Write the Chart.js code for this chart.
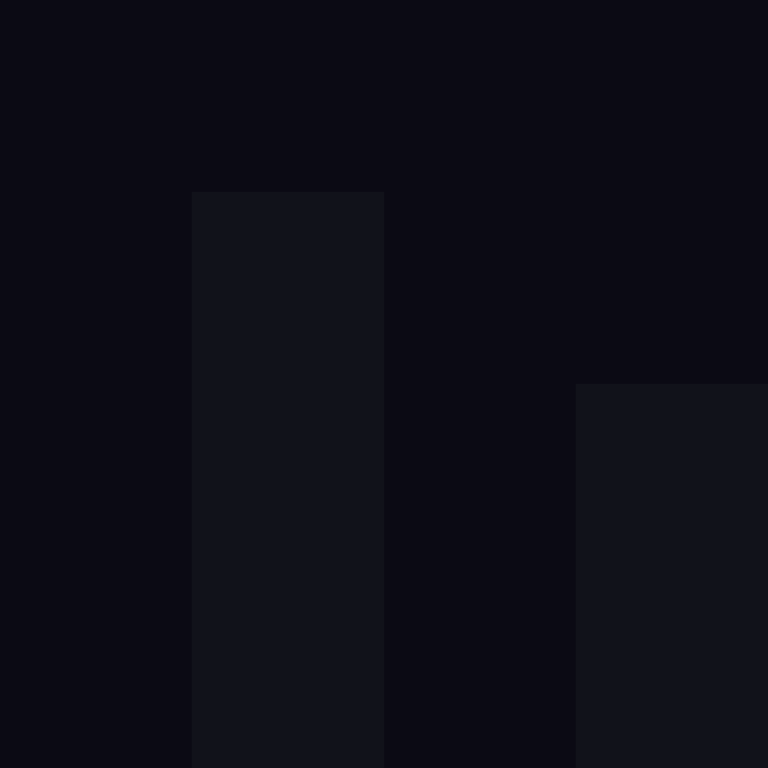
<!DOCTYPE html>
<html>
<head>
<meta charset="utf-8">
<script src="https://cdn.jsdelivr.net/npm/chart.js@4/dist/chart.umd.min.js"></script>
<style>
html,body{margin:0;padding:0;background:#0b0a14;overflow:hidden;}
#wrap{position:relative;width:768px;height:768px;}
</style>
</head>
<body>
<div id="wrap"><canvas id="c"></canvas></div>
<script>
const categories = ['1', '2', '3', '4'];
const values = [0, 3, 0, 2];
const yTicks = [0, 4];

const bgPlugin = {
  id: 'bg',
  beforeDraw(chart) {
    const ctx = chart.ctx;
    ctx.save();
    ctx.fillStyle = '#0b0a14';
    ctx.fillRect(0, 0, chart.width, chart.height);
    ctx.restore();
  }
};

new Chart(document.getElementById('c'), {
  type: 'bar',
  data: {
    labels: categories,
    datasets: [{
      data: values,
      backgroundColor: '#11121a',
      borderWidth: 0,
      barPercentage: 1,
      categoryPercentage: 1
    }]
  },
  options: {
    responsive: true,
    maintainAspectRatio: false,
    animation: false,
    layout: { padding: 0 },
    plugins: { legend: { display: false }, tooltip: { enabled: false } },
    scales: {
      x: { display: false, grid: { display: false } },
      y: { display: false, min: yTicks[0], max: yTicks[1], grid: { display: false } }
    }
  },
  plugins: [bgPlugin]
});
</script>
</body>
</html>
